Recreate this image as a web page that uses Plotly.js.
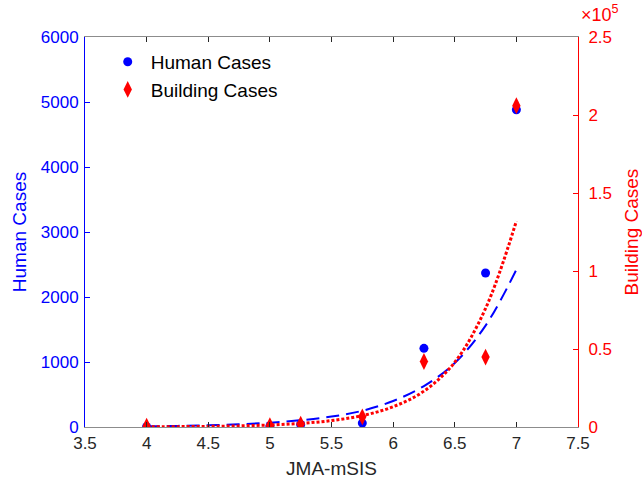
<!DOCTYPE html>
<html><head><meta charset="utf-8">
<script src="https://cdn.plot.ly/plotly-3.0.1.min.js"></script>
<style>html,body{margin:0;padding:0;background:#fff}#c{width:642px;height:486px}</style>
</head><body><div id="c"></div>
<script>
// Observed data
const mSIS = [4, 5, 5.25, 5.75, 6.25, 6.75, 7];
const humanCases = [5, 10, 40, 60, 1210, 2370, 4880];
const buildingCases = [500, 800, 1800, 6500, 42000, 44800, 206000];
// Fitted curves
const fitX = [4, 4.25, 4.5, 4.75, 5, 5.25, 5.5, 5.75, 6, 6.25, 6.5, 6.75, 7];
const humanFit = [11, 17, 27, 42, 66, 104, 160, 250, 400, 630, 985, 1560, 2420];
const buildingFit = [130, 230, 400, 720, 1300, 2300, 4100, 7300, 13000, 23000, 41500, 76000, 132000];
const yLeftTicks = [0, 1000, 2000, 3000, 4000, 5000, 6000];
const yRightTickVals = [0, 50000, 100000, 150000, 200000, 250000];
const yRightTickText = ['0', '0.5', '1', '1.5', '2', '2.5'];
const xTicks = [3.5, 4, 4.5, 5, 5.5, 6, 6.5, 7, 7.5];

const font = 'Liberation Sans, Arial, sans-serif';
const traces = [
  {x: mSIS, y: humanCases, type: 'scatter', mode: 'markers', name: 'Human Cases',
   marker: {symbol: 'circle', size: 9, color: '#0000ff'}, yaxis: 'y'},
  {x: mSIS, y: buildingCases, type: 'scatter', mode: 'markers', name: 'Building Cases',
   marker: {symbol: 'diamond-tall', size: 12, color: '#ff0000'}, yaxis: 'y2'},
  {x: fitX, y: humanFit, type: 'scatter', mode: 'lines', showlegend: false,
   line: {color: '#0000ff', width: 2, dash: '13px,7px', shape: 'spline'}, yaxis: 'y'},
  {x: fitX, y: buildingFit, type: 'scatter', mode: 'lines', showlegend: false,
   line: {color: '#ff0000', width: 3, dash: '3px,2px', shape: 'spline'}, yaxis: 'y2'}
];
const layout = {
  width: 642, height: 486,
  margin: {l: 85, r: 64, t: 37, b: 59},
  paper_bgcolor: '#fff', plot_bgcolor: '#fff',
  font: {family: font, size: 17, color: '#262626'},
  showlegend: true,
  legend: {x: 0.04, y: 0.985, xanchor: 'left', yanchor: 'top', bgcolor: 'rgba(0,0,0,0)',
    font: {family: font, size: 19, color: '#000'}, itemwidth: 36, tracegroupgap: 2},
  xaxis: {range: [3.5, 7.5], tickvals: xTicks, ticktext: xTicks.map(String),
    ticks: 'inside', ticklen: 5, tickcolor: '#262626', showline: true, linecolor: '#8c8c8c',
    linewidth: 1, mirror: 'ticks', showgrid: false, zeroline: false, ticklabelstandoff: 1,
    tickfont: {family: font, size: 17, color: '#262626'},
    title: {text: 'JMA-mSIS', font: {family: font, size: 19, color: '#262626'}, standoff: 9}},
  yaxis: {range: [0, 6000], tickvals: yLeftTicks, ticks: 'inside', ticklen: 5, tickcolor: '#0000ff',
    showline: true, linecolor: '#0000ff', linewidth: 1, showgrid: false, zeroline: false,
    ticklabelstandoff: 2,
    tickfont: {family: font, size: 17, color: '#0000ff'},
    title: {text: 'Human Cases', font: {family: font, size: 19, color: '#0000ff'}, standoff: 9}},
  yaxis2: {range: [0, 250000], overlaying: 'y', side: 'right', tickvals: yRightTickVals,
    ticktext: yRightTickText, ticks: 'inside', ticklen: 5, tickcolor: '#ff0000',
    showline: true, linecolor: '#ff0000', linewidth: 1, showgrid: false, zeroline: false,
    ticklabelstandoff: 6,
    tickfont: {family: font, size: 17, color: '#ff0000'},
    title: {text: 'Building Cases', font: {family: font, size: 19, color: '#ff0000'}, standoff: 15}},
  annotations: [{xref: 'paper', yref: 'paper', x: 1.0, y: 1.0, xanchor: 'left', yanchor: 'bottom',
    text: '×10<sup>5</sup>', showarrow: false, yshift: 10, xshift: 1,
    font: {family: font, size: 18, color: '#ff0000'}}]
};
Plotly.newPlot('c', traces, layout, {displayModeBar: false, staticPlot: true});
</script>
</body></html>
